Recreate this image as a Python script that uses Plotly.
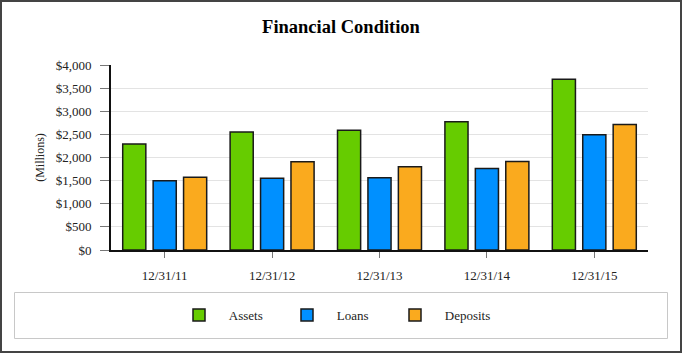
import plotly.graph_objects as go

categories = ["12/31/11", "12/31/12", "12/31/13", "12/31/14", "12/31/15"]
assets = [2290, 2550, 2590, 2775, 3690]
loans = [1500, 1550, 1560, 1760, 2490]
deposits = [1575, 1910, 1800, 1915, 2715]
series_names = ["Assets", "Loans", "Deposits"]
colors = ["#66CC00", "#0090FF", "#FAAA1E"]
tick_vals = [0, 500, 1000, 1500, 2000, 2500, 3000, 3500, 4000]
tick_text = ["$0", "$500", "$1,000", "$1,500", "$2,000", "$2,500", "$3,000", "$3,500", "$4,000"]

W, H = 682, 353
L, R, T, B = 111, 34, 65, 103
pw, ph = W - L - R, H - T - B


def px(x):
    return (x - L) / pw


def py(y):
    return (H - B - y) / ph


fig = go.Figure()
for name, vals, col in zip(series_names, [assets, loans, deposits], colors):
    fig.add_trace(go.Bar(
        x=categories, y=vals, name="\u00a0\u00a0\u00a0" + name,
        marker=dict(color=col, line=dict(color="#1a1a1a", width=1.5)),
    ))

font_family = "Liberation Serif, Times New Roman, serif"

fig.update_layout(
    width=W, height=H,
    margin=dict(l=L, r=R, t=T, b=B),
    paper_bgcolor="white", plot_bgcolor="white",
    font=dict(family=font_family, size=13, color="#222"),
    title=dict(text="<b>Financial Condition</b>", xref="container", x=341 / W, xanchor="center",
               yref="container", y=1 - 27 / H, yanchor="middle",
               font=dict(family=font_family, size=18.5, color="#000")),
    barmode="group", bargap=0.15, bargroupgap=0.24,
    showlegend=True,
    legend=dict(orientation="h", x=px(341), xanchor="center", y=py(315), yanchor="middle",
                bgcolor="rgba(0,0,0,0)", borderwidth=0,
                font=dict(family=font_family, size=13, color="#222"),
                entrywidth=63, entrywidthmode="pixels"),
    xaxis=dict(showline=True, linecolor="#111", linewidth=2,
               ticks="outside", ticklen=6, tickcolor="#777", tickwidth=1,
               showgrid=False, tickfont=dict(size=13), ticklabelstandoff=6),
    yaxis=dict(range=[0, 4000], tickvals=tick_vals, ticktext=tick_text,
               showline=True, linecolor="#111", linewidth=2,
               ticks="outside", ticklen=9, tickcolor="#777", tickwidth=1,
               showgrid=True, gridcolor="#e3e3e3", gridwidth=1,
               zeroline=False, ticklabelstandoff=6,
               title=dict(text="(Millions)", standoff=8, font=dict(size=12))),
    shapes=[
        dict(type="rect", xref="paper", yref="paper",
             x0=px(1), x1=px(681), y0=py(352), y1=py(1),
             line=dict(color="#444", width=2), fillcolor="rgba(0,0,0,0)"),
        dict(type="rect", xref="paper", yref="paper",
             x0=px(14.5), x1=px(667.5), y0=py(338.5), y1=py(292.5),
             line=dict(color="#c8c8c8", width=1), fillcolor="rgba(0,0,0,0)"),
    ],
)

fig.write_html("out.html")
